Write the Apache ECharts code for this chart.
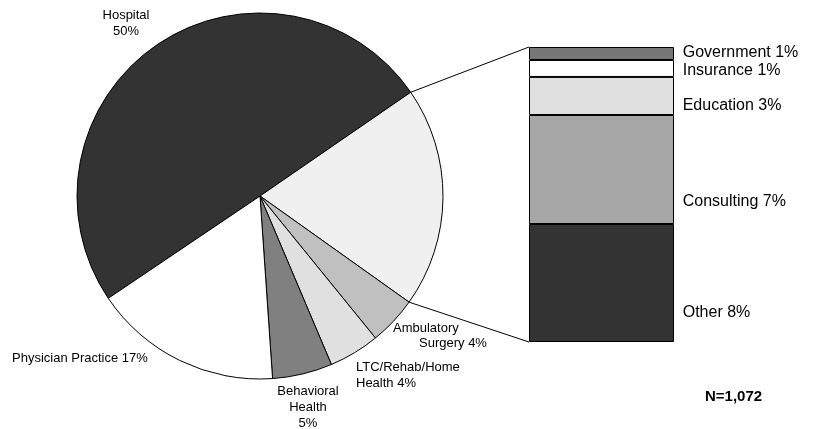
<!DOCTYPE html>
<html>
<head>
<meta charset="utf-8">
<script src="https://cdn.jsdelivr.net/npm/echarts@6/dist/echarts.min.js"></script>
<style>
  html, body { margin: 0; padding: 0; background: #fff; }
  #chart { width: 813px; height: 429px; }
</style>
</head>
<body>
<div id="chart"></div>
<script>
// pie slices, clockwise from the Hospital slice
const sliceNames = ["Hospital", "Other", "Ambulatory Surgery", "LTC/Rehab/Home Health", "Behavioral Health", "Physician Practice"];
const sliceValues = [50, 19.5, 4.3, 4.5, 5.3, 16.7];
const sliceLabels = ["Hospital\n50%", "", "{a|Ambulatory}\n{b|Surgery 4%}", "LTC/Rehab/Home\nHealth 4%", "Behavioral\nHealth\n5%", "Physician Practice 17%"];
const sliceColors = ["#333333", "#f0f0f0", "#c0c0c0", "#e0e0e0", "#808080", "#ffffff"];

// breakdown of the "Other" slice, top to bottom
const barNames = ["Government", "Insurance", "Education", "Consulting", "Other"];
const barValues = [0.88, 1.15, 2.58, 7.39, 8.0];
const barLabels = ["Government 1%", "Insurance 1%", "Education 3%", "Consulting 7%", "Other 8%"];
const barColors = ["#777777", "#ffffff", "#e0e0e0", "#a6a6a6", "#333333"];

const FONT = "Liberation Sans, Arial, sans-serif";
const PIE_CENTER = [260, 196];
const PIE_R = 183;
const START_ANGLE = 214;

// label anchor per slice: x, y, align
const labelPos = [
  [126, 23, "center"],
  null,
  [393, 336, "left"],
  [356, 375, "left"],
  [308, 407, "center"],
  [12, 358, "left"],
];
// where the bar label sits inside each segment (vertical fraction)
const barLabelY = ["46%", "65%", "74%", "79%", "75%"];

const chart = echarts.init(document.getElementById("chart"));

const barSeries = barNames.map((name, i) => ({
  name,
  type: "bar",
  stack: "other",
  barWidth: "100%",
  xAxisIndex: 0,
  yAxisIndex: 0,
  data: [barValues[i]],
  itemStyle: { color: barColors[i], borderColor: "#000", borderWidth: 1 },
  label: {
    show: true,
    position: ["106%", barLabelY[i]],
    verticalAlign: "middle",
    align: "left",
    formatter: barLabels[i],
    color: "#000",
    fontFamily: FONT,
    fontSize: 16,
  },
  emphasis: { disabled: true },
  silent: true,
}));

chart.setOption({
  animation: false,
  backgroundColor: "#fff",
  textStyle: { fontFamily: FONT },
  grid: { left: 529, top: 47, width: 145, height: 295 },
  xAxis: { type: "category", data: ["Other"], show: false },
  yAxis: { type: "value", min: 0, max: 20, inverse: true, show: false },
  series: [
    {
      type: "pie",
      center: PIE_CENTER,
      radius: PIE_R,
      startAngle: START_ANGLE,
      clockwise: true,
      avoidLabelOverlap: false,
      silent: true,
      emphasis: { disabled: true },
      data: sliceNames.map((name, i) => ({
        name,
        value: sliceValues[i],
        itemStyle: { color: sliceColors[i] },
        label: { show: sliceLabels[i] !== "" },
      })),
      itemStyle: { borderColor: "#000", borderWidth: 1 },
      label: {
        position: "outside",
        color: "#000",
        fontFamily: FONT,
        fontSize: 13,
        lineHeight: 16,
        formatter: (p) => sliceLabels[p.dataIndex],
        rich: {
          a: { fontSize: 13, fontFamily: FONT, color: "#000", lineHeight: 15 },
          b: { fontSize: 13, fontFamily: FONT, color: "#000", lineHeight: 15, padding: [0, 0, 0, 26] },
        },
      },
      labelLine: { show: false },
      labelLayout: (params) => {
        const p = labelPos[params.dataIndex];
        if (!p) return {};
        return { x: p[0], y: p[1], align: p[2], verticalAlign: "middle", hideOverlap: false, moveOverlap: null };
      },
    },
    ...barSeries,
  ],
});

// connector lines from the "Other" slice edges to the bar corners
const total = sliceValues.reduce((a, b) => a + b, 0);
const a1 = START_ANGLE - (sliceValues[0] / total) * 360;
const a2 = a1 - (sliceValues[1] / total) * 360;
const piePt = (deg) => {
  const r = (deg * Math.PI) / 180;
  return [PIE_CENTER[0] + PIE_R * Math.cos(r), PIE_CENTER[1] - PIE_R * Math.sin(r)];
};
const barTotal = barValues.reduce((a, b) => a + b, 0);
const topY = chart.convertToPixel({ yAxisIndex: 0 }, 0);
const botY = chart.convertToPixel({ yAxisIndex: 0 }, barTotal);
const barLeft = 529;
const p1 = piePt(a1);
const p2 = piePt(a2);

chart.setOption({
  graphic: [
    { type: "line", shape: { x1: p1[0], y1: p1[1], x2: barLeft, y2: topY }, style: { stroke: "#000", lineWidth: 1 }, z: 10 },
    { type: "line", shape: { x1: p2[0], y1: p2[1], x2: barLeft, y2: botY }, style: { stroke: "#000", lineWidth: 1 }, z: 10 },
    {
      type: "text",
      left: 705,
      top: 389,
      style: { text: "N=1,072", fontFamily: FONT, fontSize: 15, fontWeight: "bold", fill: "#000" },
    },
  ],
});
</script>
</body>
</html>
